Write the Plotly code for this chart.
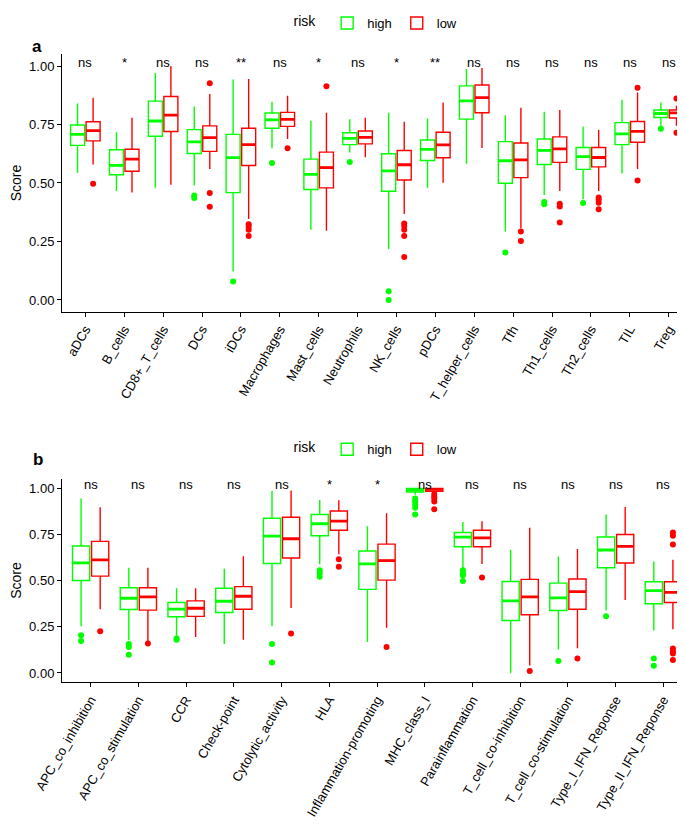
import plotly.graph_objects as go

# ---------------- Panel a: immune cells ----------------
cats_a = ["aDCs", "B_cells", "CD8+_T_cells", "DCs", "iDCs", "Macrophages", "Mast_cells",
          "Neutrophils", "NK_cells", "pDCs", "T_helper_cells", "Tfh", "Th1_cells",
          "Th2_cells", "TIL", "Treg"]
sig_a = ["ns", "*", "ns", "ns", "**", "ns", "*", "ns", "*", "**", "ns", "ns", "ns", "ns", "ns", "ns"]

a_high_lower = [0.544, 0.466, 0.48, 0.489, 0.122, 0.649, 0.30, 0.63, 0.218, 0.48, 0.582, 0.293, 0.449, 0.43, 0.541, 0.745]
a_high_q1 = [0.661, 0.535, 0.70, 0.626, 0.459, 0.734, 0.472, 0.664, 0.465, 0.596, 0.773, 0.499, 0.579, 0.558, 0.664, 0.78]
a_high_med = [0.708, 0.575, 0.765, 0.676, 0.608, 0.77, 0.537, 0.691, 0.552, 0.644, 0.851, 0.595, 0.639, 0.613, 0.71, 0.797]
a_high_q3 = [0.748, 0.642, 0.85, 0.728, 0.708, 0.799, 0.602, 0.715, 0.625, 0.684, 0.915, 0.677, 0.688, 0.652, 0.758, 0.812]
a_high_upper = [0.84, 0.717, 0.97, 0.827, 0.942, 0.847, 0.766, 0.773, 0.80, 0.776, 0.987, 0.79, 0.805, 0.742, 0.856, 0.844]
a_high_out = [[], [], [], [0.446, 0.436], [0.079], [0.585], [], [0.59], [0.037, 0.0], [], [],
              [0.203], [0.419, 0.409], [0.414], [], [0.732]]

a_low_lower = [0.579, 0.459, 0.493, 0.56, 0.346, 0.688, 0.296, 0.61, 0.367, 0.501, 0.65, 0.306, 0.466, 0.466, 0.56, 0.745]
a_low_q1 = [0.68, 0.55, 0.72, 0.635, 0.575, 0.742, 0.479, 0.667, 0.513, 0.608, 0.80, 0.523, 0.588, 0.569, 0.674, 0.778]
a_low_med = [0.724, 0.602, 0.79, 0.694, 0.664, 0.772, 0.566, 0.695, 0.578, 0.663, 0.865, 0.599, 0.646, 0.609, 0.721, 0.80]
a_low_q3 = [0.762, 0.644, 0.87, 0.744, 0.734, 0.802, 0.632, 0.722, 0.639, 0.717, 0.919, 0.671, 0.697, 0.652, 0.763, 0.812]
a_low_upper = [0.864, 0.779, 1.0, 0.88, 0.945, 0.873, 0.80, 0.779, 0.762, 0.844, 0.992, 0.822, 0.812, 0.728, 0.887, 0.83]
a_low_out = [[0.497], [], [], [0.926, 0.457, 0.398], [0.324, 0.313, 0.30, 0.273], [0.649], [0.914], [],
             [0.327, 0.316, 0.30, 0.273, 0.184], [], [], [0.293, 0.252], [0.411, 0.40, 0.331],
             [0.438, 0.428, 0.415, 0.388], [0.907, 0.511], [0.861, 0.715]]

# ---------------- Panel b: immune functions ----------------
cats_b = ["APC_co_inhibition", "APC_co_stimulation", "CCR", "Check-point", "Cytolytic_activity",
          "HLA", "Inflammation-promoting", "MHC_class_I", "Parainflammation",
          "T_cell_co-inhibition", "T_cell_co-stimulation", "Type_I_IFN_Reponse", "Type_II_IFN_Reponse"]
sig_b = ["ns", "ns", "ns", "ns", "ns", "*", "*", "ns", "ns", "ns", "ns", "ns", "ns"]

b_high_lower = [0.252, 0.177, 0.198, 0.157, 0.252, 0.588, 0.168, 0.964, 0.563, 0.0, 0.127, 0.338, 0.23]
b_high_q1 = [0.50, 0.343, 0.304, 0.327, 0.592, 0.742, 0.452, 0.979, 0.683, 0.284, 0.338, 0.569, 0.374]
b_high_med = [0.595, 0.404, 0.345, 0.388, 0.74, 0.807, 0.59, 0.989, 0.735, 0.39, 0.406, 0.665, 0.445]
b_high_q3 = [0.687, 0.461, 0.381, 0.458, 0.837, 0.857, 0.66, 0.998, 0.76, 0.495, 0.486, 0.735, 0.493]
b_high_upper = [0.943, 0.569, 0.458, 0.563, 0.984, 0.936, 0.794, 1.0, 0.817, 0.665, 0.63, 0.857, 0.603]
b_high_out = [[0.204, 0.173], [0.157, 0.141, 0.098], [0.187, 0.179], [], [0.157, 0.057],
              [0.556, 0.54, 0.52], [], [0.943, 0.928, 0.911, 0.894, 0.857],
              [0.556, 0.54, 0.529, 0.497], [], [0.064], [0.307], [0.078, 0.039]]

b_low_lower = [0.345, 0.168, 0.195, 0.179, 0.352, 0.642, 0.245, 0.975, 0.59, 0.04, 0.134, 0.395, 0.236]
b_low_q1 = [0.524, 0.34, 0.306, 0.345, 0.622, 0.772, 0.502, 0.982, 0.683, 0.315, 0.345, 0.595, 0.381]
b_low_med = [0.612, 0.411, 0.35, 0.415, 0.726, 0.821, 0.608, 0.993, 0.731, 0.411, 0.44, 0.685, 0.436]
b_low_q3 = [0.712, 0.461, 0.39, 0.467, 0.842, 0.876, 0.697, 0.998, 0.772, 0.506, 0.508, 0.749, 0.493]
b_low_upper = [0.896, 0.569, 0.458, 0.631, 0.987, 0.934, 0.864, 1.0, 0.821, 0.785, 0.67, 0.898, 0.613]
b_low_out = [[0.225], [0.159], [], [], [0.214], [0.615, 0.574], [0.141],
             [0.968, 0.955, 0.943, 0.928, 0.885], [0.517], [0.01], [0.078], [],
             [0.76, 0.742, 0.695, 0.132, 0.117, 0.105, 0.07]]

GREEN = "#00FF00"
RED = "#FF0000"
FONT = "Liberation Sans, Arial, sans-serif"
OFFSET = 0.2
BOXW = 0.36

fig = go.Figure()


def add_group(n, lower, q1, med, q3, upper, outs, name, color, offset, xa, ya, legend, show):
    xs = [i + offset for i in range(n)]
    fig.add_trace(go.Box(
        x=xs, lowerfence=lower, q1=q1, median=med, q3=q3, upperfence=upper,
        width=BOXW, whiskerwidth=0, boxpoints=False, name=name,
        line=dict(color=color, width=1.4), fillcolor="rgba(255,255,255,0)",
        xaxis=xa, yaxis=ya, legend=legend, showlegend=show, legendgroup=name + legend,
        hoverinfo="skip"))
    # thicker median line (ggplot fatten)
    mx, my = [], []
    for x, m in zip(xs, med):
        mx += [x - BOXW / 2, x + BOXW / 2, None]
        my += [m, m, None]
    fig.add_trace(go.Scatter(x=mx, y=my, mode="lines", line=dict(color=color, width=2.8),
                             xaxis=xa, yaxis=ya, showlegend=False, hoverinfo="skip"))
    ox, oy = [], []
    for x, o in zip(xs, outs):
        for v in o:
            ox.append(x)
            oy.append(v)
    fig.add_trace(go.Scatter(x=ox, y=oy, mode="markers", marker=dict(color=color, size=6),
                             xaxis=xa, yaxis=ya, showlegend=False, hoverinfo="skip"))


na, nb = len(cats_a), len(cats_b)
add_group(na, a_high_lower, a_high_q1, a_high_med, a_high_q3, a_high_upper, a_high_out,
          "high", GREEN, -OFFSET, "x", "y", "legend", True)
add_group(na, a_low_lower, a_low_q1, a_low_med, a_low_q3, a_low_upper, a_low_out,
          "low", RED, OFFSET, "x", "y", "legend", True)
add_group(nb, b_high_lower, b_high_q1, b_high_med, b_high_q3, b_high_upper, b_high_out,
          "high", GREEN, -OFFSET, "x2", "y2", "legend2", True)
add_group(nb, b_low_lower, b_low_q1, b_low_med, b_low_q3, b_low_upper, b_low_out,
          "low", RED, OFFSET, "x2", "y2", "legend2", True)

ax_common = dict(showline=True, linecolor="black", linewidth=1, ticks="outside", ticklen=4,
                 tickwidth=1, tickcolor="black", showgrid=False, zeroline=False,
                 tickfont=dict(family=FONT, size=13, color="black"), automargin=False)

yt = [0, 0.25, 0.5, 0.75, 1.0]
fig.update_layout(
    width=685, height=825, margin=dict(l=54, r=1, t=0, b=0),
    plot_bgcolor="white", paper_bgcolor="white",
    font=dict(family=FONT, size=13, color="black"),
    xaxis=dict(domain=[0, 1], range=[-0.6, na - 0.4], tickvals=list(range(na)), ticktext=cats_a,
               tickangle=-60, anchor="y", **ax_common),
    yaxis=dict(domain=[0.6358, 0.9496], range=[-0.05, 1.05], tickvals=yt, ticktext=[f"{v:.2f}" for v in yt],
               title=dict(text="Score", font=dict(family=FONT, size=14), standoff=9), anchor="x", **ax_common),
    xaxis2=dict(domain=[0, 1], range=[-0.6, nb - 0.4], tickvals=list(range(nb)), ticktext=cats_b,
                tickangle=-60, anchor="y2", **ax_common),
    yaxis2=dict(domain=[0.1839, 0.4319], range=[-0.05, 1.05], tickvals=yt, ticktext=[f"{v:.2f}" for v in yt],
                title=dict(text="Score", font=dict(family=FONT, size=14), standoff=9), anchor="x2", **ax_common),
    legend=dict(orientation="h", x=0.5, xanchor="center", y=0.988, yanchor="middle",
                title=dict(text="risk ", font=dict(size=14)), font=dict(size=13), bgcolor="rgba(0,0,0,0)"),
    legend2=dict(orientation="h", x=0.5, xanchor="center", y=0.468, yanchor="middle",
                 title=dict(text="risk ", font=dict(size=14)), font=dict(size=13), bgcolor="rgba(0,0,0,0)"),
)

for i, s in enumerate(sig_a):
    fig.add_annotation(x=i, y=1.015, xref="x", yref="y", text=s, showarrow=False,
                       font=dict(family=FONT, size=13, color="black"), yanchor="middle")
for i, s in enumerate(sig_b):
    fig.add_annotation(x=i, y=1.02, xref="x2", yref="y2", text=s, showarrow=False,
                       font=dict(family=FONT, size=13, color="black"), yanchor="middle")

fig.add_annotation(x=-0.0508, y=0.973, xref="paper", yref="paper", text="<b>a</b>", showarrow=False,
                   font=dict(family=FONT, size=17, color="black"))
fig.add_annotation(x=-0.0492, y=0.455, xref="paper", yref="paper", text="<b>b</b>", showarrow=False,
                   font=dict(family=FONT, size=17, color="black"))

fig.write_html("out.html")
